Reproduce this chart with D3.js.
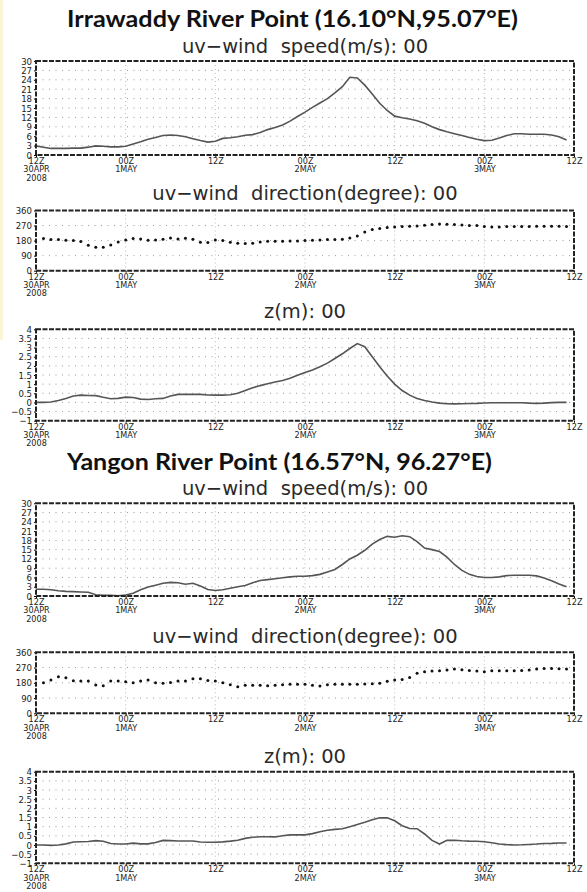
<!DOCTYPE html>
<html>
<head>
<meta charset="utf-8">
<script src="https://cdn.jsdelivr.net/npm/d3@7"></script>
<style>
body { margin: 0; background: #fff; }
</style>
</head>
<body>
<div id="chart"></div>
<script>
var w = 587;
var h = 892;
var xLeft = 36;
var xRight = 574;

// time axis: hourly steps from 12Z 30APR 2008
var tickHours = [0, 12, 24, 36, 48, 60, 72];
var tickLabels = [["12Z", "30APR", "2008"], ["00Z", "1MAY"], ["12Z"], ["00Z", "2MAY"], ["12Z"], ["00Z", "3MAY"], ["12Z"]];

var speedTicks = [0, 3, 6, 9, 12, 15, 18, 21, 24, 27, 30];
var dirTicks = [0, 90, 180, 270, 360];
var zTicks = [-1, -0.5, 0, 0.5, 1, 1.5, 2, 2.5, 3, 3.5, 4];

var stationTitles = ["Irrawaddy River Point (16.10°N,95.07°E)", "Yangon River Point (16.57°N, 96.27°E)"];
var stationWidths = [451, 425];
var panelTitles = ["uv\u2212wind  speed(m/s): 00", "uv\u2212wind  direction(degree): 00", "z(m): 00"];

var irrSpeed = [2.9, 2.5, 2.1, 2.1, 2.1, 2.2, 2.2, 2.5, 2.9, 2.8, 2.6, 2.6, 2.8, 3.5, 4.2, 5.0, 5.6, 6.2,
   6.4, 6.2, 5.8, 5.2, 4.6, 4.1, 4.4, 5.3, 5.5, 5.8, 6.3, 6.5, 7.2, 8.1, 8.8, 9.6, 10.8, 12.3,
   13.7, 15.2, 16.6, 18.0, 19.8, 21.8, 24.8, 24.6, 22.3, 19.5, 16.5, 14.2, 12.4, 11.9, 11.5, 10.9, 10.1, 9.0,
   8.1, 7.4, 6.8, 6.2, 5.6, 5.0, 4.6, 4.7, 5.4, 6.2, 6.8, 6.8, 6.6, 6.6, 6.6, 6.4, 5.8, 4.8];

var irrDir = [null, 192, 186, 186, 182, 180, 174, 152, 140, 140, 154, 172, 184, 192, 190, 182, 184, 188,
   196, 190, 194, 188, 170, 168, 184, 180, 170, 164, 162, 164, 172, 176, 176, 176, 178, 178,
   180, 182, 184, 186, 186, 188, 196, 208, 232, 246, 252, 258, 262, 264, 266, 268, 272, 276,
   280, 278, 276, 274, 270, 270, 264, 262, 262, 264, 264, 264, 264, 266, 266, 266, 266, 264];

var irrZ = [0.0, 0.0, 0.02, 0.1, 0.22, 0.35, 0.4, 0.38, 0.37, 0.28, 0.2, 0.22, 0.29, 0.27, 0.18, 0.16, 0.2, 0.22,
   0.35, 0.44, 0.45, 0.44, 0.44, 0.41, 0.4, 0.4, 0.42, 0.5, 0.65, 0.8, 0.92, 1.02, 1.12, 1.2, 1.32, 1.48,
   1.64, 1.78, 1.95, 2.15, 2.4, 2.66, 2.95, 3.22, 3.05, 2.5, 1.95, 1.45, 1.0, 0.65, 0.4, 0.22, 0.1, 0.02,
   -0.04, -0.07, -0.08, -0.07, -0.06, -0.05, -0.03, -0.02, -0.02, -0.02, -0.02, -0.02, -0.04, -0.05, -0.04, -0.01, 0.0, 0.0];

var yanSpeed = [2.2, 2.2, 2.0, 1.7, 1.5, 1.4, 1.3, 1.2, 0.4, 0.2, 0.2, 0.1, 0.3, 0.9, 2.0, 2.9, 3.5, 4.1,
   4.4, 4.3, 3.8, 4.1, 3.2, 2.1, 1.8, 2.0, 2.5, 3.0, 3.4, 4.3, 5.0, 5.3, 5.6, 5.9, 6.2, 6.4,
   6.4, 6.6, 7.0, 7.8, 8.6, 10.2, 12.0, 13.2, 14.8, 16.8, 18.3, 19.3, 19.0, 19.5, 19.2, 17.6, 15.5, 15.0,
   14.4, 12.6, 10.2, 8.3, 7.0, 6.3, 6.0, 6.0, 6.2, 6.6, 6.7, 6.7, 6.7, 6.5, 5.8, 4.9, 3.9, 3.0];

var yanDir = [null, 180, 196, 216, 210, 192, 190, 190, 167, 163, 190, 190, 186, 180, 190, 196, 180, 177,
   182, 190, 190, 204, 204, 194, 190, 180, 169, 157, 165, 165, 165, 163, 165, 169, 172, 171,
   171, 165, 161, 169, 171, 171, 171, 171, 173, 175, 177, 189, 196, 200, 212, 236, 245, 249,
   251, 255, 261, 257, 253, 249, 245, 251, 251, 251, 251, 253, 255, 261, 265, 265, 263, 261];

var yanZ = [0.0, 0.0, -0.02, 0.0, 0.06, 0.16, 0.18, 0.19, 0.24, 0.2, 0.08, 0.05, 0.05, 0.1, 0.06, 0.06, 0.14, 0.25,
   0.24, 0.22, 0.22, 0.22, 0.16, 0.15, 0.15, 0.17, 0.21, 0.26, 0.36, 0.42, 0.45, 0.45, 0.44, 0.5, 0.55, 0.55,
   0.55, 0.62, 0.72, 0.8, 0.85, 0.89, 1.0, 1.12, 1.24, 1.38, 1.49, 1.48, 1.32, 1.05, 0.9, 0.89, 0.6, 0.25,
   0.05, 0.25, 0.26, 0.23, 0.21, 0.2, 0.18, 0.12, 0.05, 0.02, 0.0, 0.01, 0.03, 0.05, 0.08, 0.09, 0.11, 0.11];

var panels = [
   {title: panelTitles[0], titleY: 53, top: 61, bottom: 155, ticks: speedTicks, values: irrSpeed, kind: "line"},
   {title: panelTitles[1], titleY: 200, top: 210.5, bottom: 270.7, ticks: dirTicks, values: irrDir, kind: "dots"},
   {title: panelTitles[2], titleY: 318, top: 329.3, bottom: 420.7, ticks: zTicks, values: irrZ, kind: "line"},
   {title: panelTitles[0], titleY: 495, top: 503.3, bottom: 596, ticks: speedTicks, values: yanSpeed, kind: "line"},
   {title: panelTitles[1], titleY: 643, top: 652.3, bottom: 713.3, ticks: dirTicks, values: yanDir, kind: "dots"},
   {title: panelTitles[2], titleY: 763, top: 771.7, bottom: 863.3, ticks: zTicks, values: yanZ, kind: "line"}
];

var svg = d3.select("#chart")
            .append("svg")
            .attr("width", w)
            .attr("height", h)
            .style("font-family", "'DejaVu Sans', sans-serif");

// faint strip on the left edge of the scan
svg.append("rect")
   .attr("x", 0).attr("y", 0)
   .attr("width", 3).attr("height", 340)
   .attr("fill", "#fbf5d8");

var x = d3.scaleLinear().domain([0, 72]).range([xLeft, xRight]);
var numFmt = d3.format("~g");

svg.selectAll(".station")
   .data(stationTitles)
   .enter().append("text")
   .attr("class", "station")
   .attr("x", 67)
   .attr("y", function(d, i) { return i == 0 ? 27 : 470; })
   .attr("font-family", "Lato, 'Open Sans', sans-serif")
   .attr("font-weight", "bold")
   .attr("font-size", 23.5)
   .attr("fill", "#111")
   .attr("textLength", function(d, i) { return stationWidths[i]; })
   .attr("lengthAdjust", "spacingAndGlyphs")
   .text(function(d) { return d; });

panels.forEach(function(p) {
   var y = d3.scaleLinear()
             .domain([p.ticks[0], p.ticks[p.ticks.length - 1]])
             .range([p.bottom, p.top]);
   var g = svg.append("g");

   g.append("text")
    .attr("x", (xLeft + xRight) / 2)
    .attr("y", p.titleY)
    .attr("text-anchor", "middle")
    .attr("font-size", 19.5)
    .attr("fill", "#2a2a2a")
    .style("white-space", "pre")
    .text(p.title);

   // grid
   g.selectAll(".hgrid")
    .data(p.ticks.slice(1, -1))
    .enter().append("line")
    .attr("x1", xLeft).attr("x2", xRight)
    .attr("y1", function(d) { return y(d); })
    .attr("y2", function(d) { return y(d); })
    .attr("stroke", "#999")
    .attr("stroke-width", 1)
    .attr("stroke-dasharray", "1,5.5");

   g.selectAll(".vgrid")
    .data(tickHours.slice(1, -1))
    .enter().append("line")
    .attr("x1", function(d) { return x(d); })
    .attr("x2", function(d) { return x(d); })
    .attr("y1", p.top).attr("y2", p.bottom)
    .attr("stroke", "#bbb")
    .attr("stroke-width", 1)
    .attr("stroke-dasharray", "1,3");

   // y axis
   var ya = g.append("g")
             .attr("transform", "translate(" + xLeft + ",0)")
             .call(d3.axisLeft(y).tickValues(p.ticks).tickSize(2).tickPadding(2).tickFormat(numFmt));
   ya.select(".domain").remove();
   ya.selectAll("text")
     .attr("font-family", "'DejaVu Sans Condensed', 'DejaVu Sans', sans-serif")
     .attr("font-size", 9.5)
     .attr("fill", "#222");

   // x axis with stacked labels
   var xa = g.append("g")
             .attr("transform", "translate(0," + p.bottom + ")")
             .call(d3.axisBottom(x).tickValues(tickHours).tickSize(2).tickFormat(""));
   xa.select(".domain").remove();
   xa.selectAll(".tick").each(function(d, i) {
      var t = d3.select(this).append("text")
                .attr("fill", "#222")
                .attr("font-family", "'DejaVu Sans Condensed', 'DejaVu Sans', sans-serif")
                .attr("font-size", 9)
                .attr("text-anchor", "middle");
      tickLabels[i].forEach(function(s, k) {
         t.append("tspan").attr("x", 0).attr("y", 9 + k * 8.4).text(s);
      });
   });

   // series
   if (p.kind == "line") {
      var line = d3.line()
                   .x(function(d, i) { return x(i); })
                   .y(function(d) { return y(d); });
      g.append("path")
       .attr("d", line(p.values))
       .attr("fill", "none")
       .attr("stroke", "#555")
       .attr("stroke-width", 1.6);
   } else {
      var pts = p.values.map(function(v, i) { return {h: i, v: v}; })
                        .filter(function(d) { return d.v !== null; });
      g.selectAll(".dot")
       .data(pts)
       .enter().append("circle")
       .attr("cx", function(d) { return x(d.h); })
       .attr("cy", function(d) { return y(d.v); })
       .attr("r", 1.5)
       .attr("fill", "#111");
   }

   // frame
   g.append("rect")
    .attr("x", xLeft).attr("y", p.top)
    .attr("width", xRight - xLeft)
    .attr("height", p.bottom - p.top)
    .attr("fill", "none")
    .attr("stroke", "#222")
    .attr("stroke-width", 2)
    .attr("stroke-dasharray", "5,1.5");
});
</script>
</body>
</html>
